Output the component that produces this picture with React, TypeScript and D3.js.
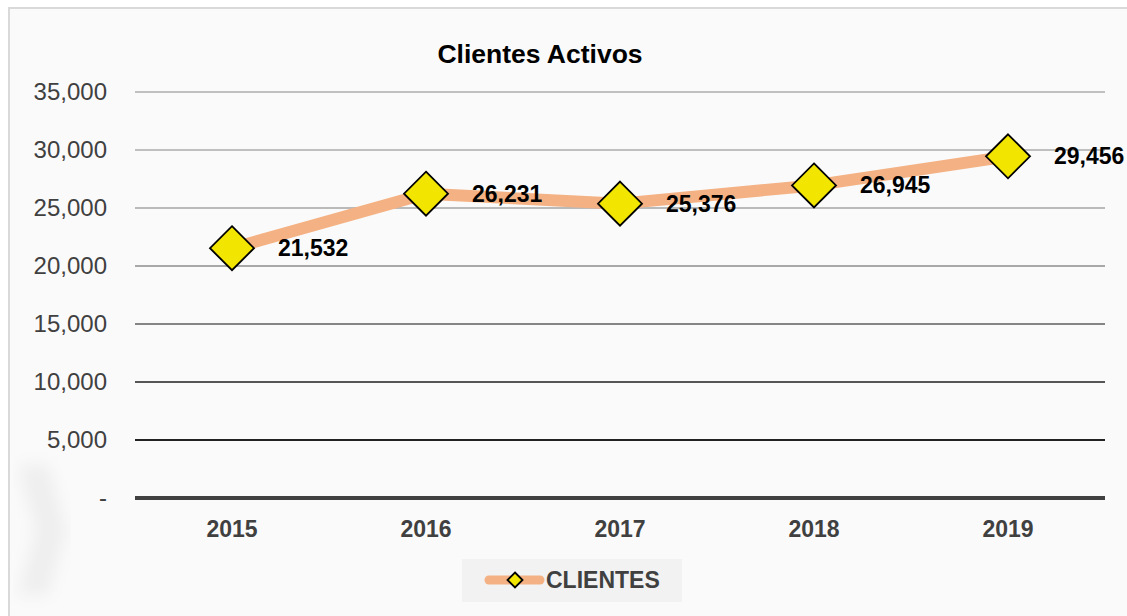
import { useEffect, useRef } from "react";
import * as d3 from "d3";

// Chart data
const years = ["2015", "2016", "2017", "2018", "2019"];
const clientes = [21532, 26231, 25376, 26945, 29456];
const yTicks = [0, 5000, 10000, 15000, 20000, 25000, 30000, 35000];
// gridline colours get darker towards the bottom, like the original
const gridColors = ["#404040", "#222222", "#555555", "#858585", "#a8a8a8", "#bababa", "#bfbfbf", "#c0c0c0"];

const width = 1127;
const height = 616;
const margin = { top: 92, right: 22, bottom: 118, left: 135 };

const diamond = (r: number) => `M0,${-r}L${r},0L0,${r}L${-r},0Z`;

const drawChart = (node: SVGSVGElement) => {
  const svg = d3.select(node);
  svg.selectAll("*").remove();

  // background + frame
  svg.append("rect")
    .attr("width", width).attr("height", height)
    .attr("fill", "#ffffff");
  svg.append("rect")
    .attr("x", 9).attr("y", 8)
    .attr("width", width + 20).attr("height", height + 20)
    .attr("fill", "#fafafa")
    .attr("stroke", "#d9d9d9")
    .attr("stroke-width", 2);

  // faint watermark chevron bottom left
  const defs = svg.append("defs");
  defs.append("filter").attr("id", "blur")
    .append("feGaussianBlur").attr("stdDeviation", 8);
  svg.append("path")
    .attr("d", "M18,465 L48,465 L66,530 L48,595 L18,595 L36,530 Z")
    .attr("fill", "#eeeeee")
    .attr("filter", "url(#blur)");

  const x = d3.scalePoint()
    .domain(years)
    .range([margin.left, width - margin.right])
    .padding(0.5);

  const y = d3.scaleLinear()
    .domain([0, 35000])
    .range([height - margin.bottom, margin.top]);

  // gridlines
  svg.append("g")
    .selectAll("line")
    .data(yTicks)
    .join("line")
    .attr("x1", margin.left)
    .attr("x2", width - margin.right)
    .attr("y1", d => y(d))
    .attr("y2", d => y(d))
    .attr("stroke", (d, i) => gridColors[i])
    .attr("stroke-width", d => (d === 0 ? 4 : 2));

  // y labels
  svg.append("g")
    .selectAll("text")
    .data(yTicks)
    .join("text")
    .attr("x", 107)
    .attr("y", d => y(d))
    .attr("dy", "0.35em")
    .attr("text-anchor", "end")
    .attr("font-family", "Liberation Sans, Arial, sans-serif")
    .attr("font-size", 24)
    .attr("fill", "#404040")
    .text(d => (d === 0 ? "-" : d3.format(",")(d)));

  // x labels
  svg.append("g")
    .selectAll("text")
    .data(years)
    .join("text")
    .attr("x", d => x(d)!)
    .attr("y", 537)
    .attr("text-anchor", "middle")
    .attr("font-family", "Liberation Sans, Arial, sans-serif")
    .attr("font-weight", "bold")
    .attr("font-size", 23)
    .attr("fill", "#404040")
    .text(d => d);

  // title
  svg.append("text")
    .attr("x", 540)
    .attr("y", 63)
    .attr("text-anchor", "middle")
    .attr("font-family", "Liberation Sans, Arial, sans-serif")
    .attr("font-weight", "bold")
    .attr("font-size", 26.5)
    .attr("fill", "#000")
    .text("Clientes Activos");

  const points = years.map((yr, i) => ({ yr, v: clientes[i] }));

  const line = d3.line<{ yr: string; v: number }>()
    .x(d => x(d.yr)!)
    .y(d => y(d.v));

  svg.append("path")
    .datum(points)
    .attr("d", line)
    .attr("fill", "none")
    .attr("stroke", "#f4b183")
    .attr("stroke-width", 12)
    .attr("stroke-linejoin", "round");

  svg.append("g")
    .selectAll("path")
    .data(points)
    .join("path")
    .attr("transform", d => `translate(${x(d.yr)},${y(d.v)})`)
    .attr("d", diamond(22))
    .attr("fill", "#f2e600")
    .attr("stroke", "#000")
    .attr("stroke-width", 1.8);

  // data labels
  svg.append("g")
    .selectAll("text")
    .data(points)
    .join("text")
    .attr("x", d => x(d.yr)! + 46)
    .attr("y", d => y(d.v))
    .attr("dy", "0.35em")
    .attr("font-family", "Liberation Sans, Arial, sans-serif")
    .attr("font-weight", "bold")
    .attr("font-size", 23)
    .attr("fill", "#000")
    .text(d => d3.format(",")(d.v));

  // legend
  const lg = svg.append("g");
  lg.append("rect")
    .attr("x", 462).attr("y", 559)
    .attr("width", 220).attr("height", 43)
    .attr("fill", "#f2f2f2");
  lg.append("line")
    .attr("x1", 489).attr("x2", 540)
    .attr("y1", 580).attr("y2", 580)
    .attr("stroke", "#f4b183")
    .attr("stroke-width", 9)
    .attr("stroke-linecap", "round");
  lg.append("path")
    .attr("transform", "translate(515,580)")
    .attr("d", diamond(7.5))
    .attr("fill", "#f2e600")
    .attr("stroke", "#000")
    .attr("stroke-width", 1.8);
  lg.append("text")
    .attr("x", 546)
    .attr("y", 580)
    .attr("dy", "0.35em")
    .attr("font-family", "Liberation Sans, Arial, sans-serif")
    .attr("font-weight", "bold")
    .attr("font-size", 23)
    .attr("fill", "#404040")
    .text("CLIENTES");
};

export default function App() {
  const ref = useRef<SVGSVGElement>(null);

  useEffect(() => {
    if (ref.current) drawChart(ref.current);
  }, []);

  return (
    <svg
      ref={ref}
      width={width}
      height={height}
      style={{ position: "absolute", left: 0, top: 0, display: "block" }}
    />
  );
}
